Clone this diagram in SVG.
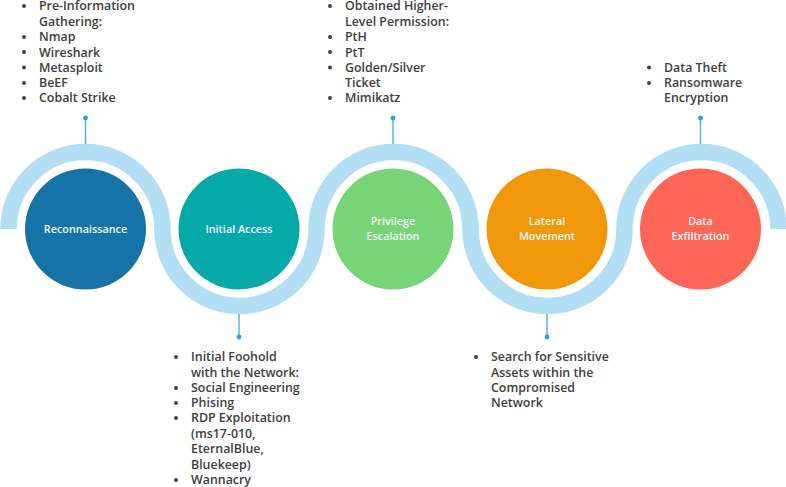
<svg xmlns="http://www.w3.org/2000/svg" width="786" height="487" viewBox="0 0 786 487">
<style>
.t{font-family:"Open Sans","Liberation Sans",sans-serif;font-weight:600;font-size:12.4px;fill:#404040}
.b{fill:#404040}
.n{font-family:"Open Sans","Liberation Sans",sans-serif;font-weight:600;font-size:10.8px;fill:#f4f8f8;text-anchor:middle}
.s{stroke:#4fb3e0;stroke-width:1.4;fill:none}
.d{fill:#26a4dc}
</style>
<rect width="786" height="487" fill="#fff"/>
<g id="connectors">
<path d="M8.500 229A77 77 0 0 1 162.500 229A77 77 0 0 0 316.500 229A77 77 0 0 1 470.500 229A77 77 0 0 0 624.500 229A77 77 0 0 1 778.500 229" fill="none" stroke="#b3dff5" stroke-width="16.500"/>
<path class="s" d="M85.500 118V144M239 314V337M393 118V144M547 314V337M700.500 118V144"/>
<circle class="d" cx="85.500" cy="118" r="2.400"/><circle class="d" cx="239" cy="337" r="2.400"/><circle class="d" cx="393" cy="118" r="2.400"/><circle class="d" cx="547" cy="337" r="2.400"/><circle class="d" cx="700.500" cy="118" r="2.400"/>
</g>
<g id="reconnaissance"><circle cx="85.500" cy="229" r="60.500" fill="#1573a7"/><text class="n" x="85.500" y="233">Reconnaissance</text></g>
<g id="initial-access"><circle cx="239" cy="229" r="60.500" fill="#05aaa8"/><text class="n" x="239" y="233">Initial Access</text></g>
<g id="privilege-escalation"><circle cx="393" cy="229" r="60.500" fill="#77d477"/><text class="n" x="393" y="225">Privilege</text><text class="n" x="393" y="240">Escalation</text></g>
<g id="lateral-movement"><circle cx="547" cy="229" r="60.500" fill="#f0980a"/><text class="n" x="547" y="225">Lateral</text><text class="n" x="547" y="240">Movement</text></g>
<g id="data-exfiltration"><circle cx="700.500" cy="229" r="60.500" fill="#ff6658"/><text class="n" x="700.500" y="225">Data</text><text class="n" x="700.500" y="240">Exfiltration</text></g>
<g id="notes-reconnaissance">
<text class="t" x="39" y="10.300">Pre-Information</text><text class="t" x="39" y="25.500">Gathering:</text><text class="t" x="39" y="41.300">Nmap</text><text class="t" x="39" y="56.500">Wireshark</text><text class="t" x="39" y="71.800">Metasploit</text><text class="t" x="39" y="87.300">BeEF</text><text class="t" x="39" y="102.300">Cobalt Strike</text>
<circle class="b" cx="24" cy="6" r="2"/><circle class="b" cx="24" cy="37" r="2"/><circle class="b" cx="24" cy="52" r="2"/><circle class="b" cx="24" cy="67.500" r="2"/><circle class="b" cx="24" cy="83" r="2"/><circle class="b" cx="24" cy="98" r="2"/>
</g>
<g id="notes-initial-access">
<text class="t" x="191" y="361.300">Initial Foohold</text><text class="t" x="191" y="376.500">with the Network:</text><text class="t" x="191" y="391.800">Social Engineering</text><text class="t" x="191" y="407.300">Phising</text><text class="t" x="191" y="422.300">RDP Exploitation</text><text class="t" x="191" y="438.300">(ms17-010,</text><text class="t" x="191" y="453.300">EternalBlue,</text><text class="t" x="191" y="468.800">Bluekeep)</text><text class="t" x="191" y="484.300">Wannacry</text>
<circle class="b" cx="176" cy="357" r="2"/><circle class="b" cx="176" cy="388" r="2"/><circle class="b" cx="176" cy="403" r="2"/><circle class="b" cx="176" cy="418" r="2"/><circle class="b" cx="176" cy="480" r="2"/>
</g>
<g id="notes-privilege">
<text class="t" x="345" y="10.300">Obtained Higher-</text><text class="t" x="345" y="25.500">Level Permission:</text><text class="t" x="345" y="41.300">PtH</text><text class="t" x="345" y="56.500">PtT</text><text class="t" x="345" y="71.800">Golden/Silver</text><text class="t" x="345" y="87.300">Ticket</text><text class="t" x="345" y="102.300">Mimikatz</text>
<circle class="b" cx="330" cy="6" r="2"/><circle class="b" cx="330" cy="37" r="2"/><circle class="b" cx="330" cy="52" r="2"/><circle class="b" cx="330" cy="67.500" r="2"/><circle class="b" cx="330" cy="98" r="2"/>
</g>
<g id="notes-lateral">
<text class="t" x="491" y="361.300">Search for Sensitive</text><text class="t" x="491" y="376.500">Assets within the</text><text class="t" x="491" y="391.800">Compromised</text><text class="t" x="491" y="407.300">Network</text>
<circle class="b" cx="476" cy="357" r="2"/>
</g>
<g id="notes-exfiltration">
<text class="t" x="664" y="71.800">Data Theft</text><text class="t" x="664" y="87.300">Ransomware</text><text class="t" x="664" y="102.300">Encryption</text>
<circle class="b" cx="649" cy="67.500" r="2"/><circle class="b" cx="649" cy="83" r="2"/>
</g>
</svg>
